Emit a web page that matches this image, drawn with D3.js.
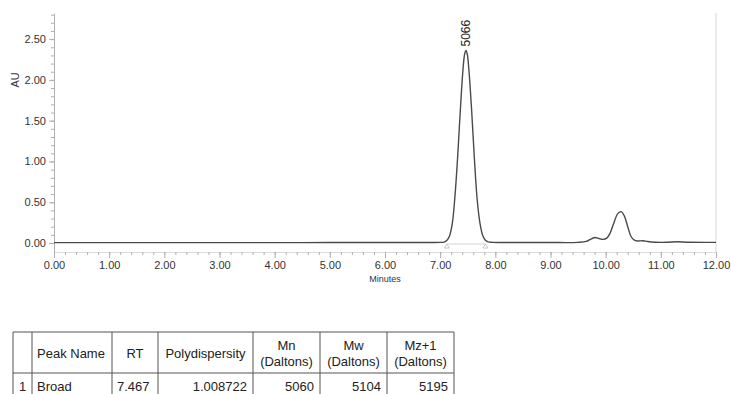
<!DOCTYPE html>
<html>
<head>
<meta charset="utf-8">
<script src="https://cdn.jsdelivr.net/npm/d3@7"></script>
<style>
  body { margin: 0; background: #fff; }
  svg { font-family: "Liberation Sans", Arial, sans-serif; }
</style>
</head>
<body>
<svg id="chart" width="731" height="394"></svg>
<script>
// chromatogram trace (minutes, AU)
let times = [0.00, 1.00, 2.00, 3.00, 4.00, 5.00, 6.00, 6.80, 7.00,
  7.07, 7.12, 7.17, 7.22, 7.27, 7.32, 7.37, 7.42, 7.445, 7.467, 7.49, 7.52, 7.57, 7.62, 7.67, 7.72, 7.77, 7.82, 7.87, 7.95,
  8.50, 9.00, 9.50, 9.65, 9.75, 9.81, 9.88, 9.95, 10.02, 10.08, 10.15, 10.22, 10.28, 10.34, 10.40, 10.46, 10.52, 10.58,
  10.68, 10.76, 10.90, 11.10, 11.30, 11.50, 12.00]
let au = [0.005, 0.005, 0.005, 0.005, 0.005, 0.006, 0.006, 0.007, 0.008,
  0.012, 0.032, 0.087, 0.24, 0.59, 1.09, 1.68, 2.18, 2.32, 2.36, 2.32, 2.13, 1.63, 1.04, 0.54, 0.25, 0.095, 0.034, 0.014, 0.008,
  0.006, 0.006, 0.008, 0.02, 0.055, 0.068, 0.055, 0.045, 0.06, 0.12, 0.25, 0.36, 0.385, 0.33, 0.20, 0.08, 0.035, 0.025,
  0.028, 0.018, 0.01, 0.009, 0.015, 0.01, 0.008]

// integrated peak
let peakLabel = "5066"
let peakRT = 7.467
let peakStart = 7.12
let peakEnd = 7.82

// axis ticks
let xMajor = [0, 1, 2, 3, 4, 5, 6, 7, 8, 9, 10, 11, 12]
let yMajor = [0, 0.5, 1.0, 1.5, 2.0, 2.5]

// results table
let headers = [["", ""], ["Peak Name"], ["RT"], ["Polydispersity"], ["Mn", "(Daltons)"], ["Mw", "(Daltons)"], ["Mz+1", "(Daltons)"]]
let row = ["1", "Broad", "7.467", "1.008722", "5060", "5104", "5195"]

let svg = d3.select("#chart")

let xscale = d3.scaleLinear().domain([0, 12]).range([54, 716])
let yscale = d3.scaleLinear().domain([-0.11, 2.82]).range([252, 13])

let axisColor = "#b0b0b0"
let textColor = "#333"

// right border of the plot
svg.append("line")
  .attr("x1", xscale(12)).attr("x2", xscale(12))
  .attr("y1", yscale(2.82)).attr("y2", yscale(-0.11))
  .attr("stroke", "#e4e4e4").attr("stroke-width", 1.5)

// y axis: major + minor ticks
let yMinor = d3.range(0, 29).map(i => i / 10).filter(v => v <= 2.82)
let yAxisG = svg.append("g").attr("transform", "translate(" + xscale(0) + ",0)")
yAxisG.call(d3.axisLeft(yscale).tickValues(yMinor).tickSize(3).tickFormat("").tickSizeOuter(0))
yAxisG.call(g => g.select(".domain").remove())
let yAxisMajor = svg.append("g").attr("transform", "translate(" + xscale(0) + ",0)")
  .call(d3.axisLeft(yscale).tickValues(yMajor).tickSize(5).tickSizeOuter(0).tickFormat(d3.format(".2f")))
yAxisMajor.select(".domain").attr("stroke", axisColor)
svg.selectAll("g .tick line").attr("stroke", axisColor)
yAxisMajor.selectAll("text").attr("fill", textColor).style("font-size", "11px").attr("x", -8)

// x axis
let xMinor = d3.range(0, 61).map(i => i / 5)
let xAxisMinor = svg.append("g").attr("transform", "translate(0," + yscale(-0.11) + ")")
  .call(d3.axisBottom(xscale).tickValues(xMinor).tickSize(3).tickFormat("").tickSizeOuter(0))
xAxisMinor.select(".domain").attr("stroke", "#dcdcdc")
xAxisMinor.selectAll(".tick line").attr("stroke", axisColor)
let xAxisMajor = svg.append("g").attr("transform", "translate(0," + yscale(-0.11) + ")")
  .call(d3.axisBottom(xscale).tickValues(xMajor).tickSize(6).tickSizeOuter(0).tickFormat(d3.format(".2f")))
xAxisMajor.select(".domain").remove()
xAxisMajor.selectAll(".tick line").attr("stroke", axisColor)
xAxisMajor.selectAll("text").attr("fill", textColor).style("font-size", "11px").attr("y", 9)

// axis titles
svg.append("text")
  .attr("transform", "translate(19," + yscale(2.0) + ") rotate(-90)")
  .attr("text-anchor", "middle")
  .attr("fill", textColor)
  .style("font-size", "11px")
  .text("AU")
svg.append("text")
  .attr("x", xscale(6)).attr("y", 282)
  .attr("text-anchor", "middle")
  .attr("fill", textColor)
  .style("font-size", "9px")
  .text("Minutes")

// peak baseline and start/end markers
svg.append("line")
  .attr("x1", xscale(peakStart)).attr("x2", xscale(peakEnd))
  .attr("y1", yscale(0) + 1).attr("y2", yscale(0) + 1)
  .attr("stroke", "#d4d4d4").attr("stroke-width", 1)
svg.selectAll(".marker")
  .data([peakStart, peakEnd])
  .enter()
  .append("path")
  .attr("class", "marker")
  .attr("d", d => {
    let cx = xscale(d), cy = yscale(0) + 3
    return "M" + (cx - 2.5) + "," + (cy + 2) + "L" + cx + "," + (cy - 2) + "L" + (cx + 2.5) + "," + (cy + 2) + "Z"
  })
  .attr("fill", "none")
  .attr("stroke", "#bbb")
  .attr("stroke-width", 0.8)

// trace
let lineFunction = d3.line()
  .x((d, i) => xscale(times[i]))
  .y(d => yscale(d))
  .curve(d3.curveCatmullRom.alpha(0.5))
svg.append("path")
  .datum(au)
  .attr("d", lineFunction)
  .attr("fill", "none")
  .attr("stroke", "#4a4a4a")
  .attr("stroke-width", 1.4)

// peak label
let peakTop = yscale(au[times.indexOf(peakRT)])
svg.append("text")
  .attr("transform", "translate(" + xscale(peakRT) + "," + (peakTop - 4) + ") rotate(-90)")
  .attr("dy", "0.35em")
  .attr("fill", "#222")
  .style("font-size", "12px")
  .text(peakLabel)

// results table
let colX = [13, 32, 112, 158, 253, 320, 387, 454]
let rowY = [332, 373, 400]
let table = svg.append("g")
table.selectAll(".vline")
  .data(colX)
  .enter()
  .append("line")
  .attr("x1", d => d).attr("x2", d => d)
  .attr("y1", rowY[0]).attr("y2", rowY[2])
  .attr("stroke", "#555").attr("stroke-width", 1)
table.selectAll(".hline")
  .data(rowY)
  .enter()
  .append("line")
  .attr("x1", colX[0]).attr("x2", colX[colX.length - 1])
  .attr("y1", d => d).attr("y2", d => d)
  .attr("stroke", "#555").attr("stroke-width", 1)

let headAlign = ["middle", "start", "middle", "middle", "middle", "middle", "middle"]
let rowAlign = ["middle", "start", "start", "end", "end", "end", "end"]
function cellX(i, align){
  if(align == "start") return colX[i] + 5
  if(align == "end") return colX[i + 1] - 6
  return (colX[i] + colX[i + 1]) / 2
}
headers.forEach((lines, i) => {
  let n = lines.length
  lines.forEach((t, j) => {
    let cy = n == 1 ? 353 : 345 + j * 16
    table.append("text")
      .attr("x", cellX(i, headAlign[i]))
      .attr("y", cy)
      .attr("dy", "0.35em")
      .attr("text-anchor", headAlign[i])
      .attr("fill", "#222")
      .style("font-size", "13px")
      .text(t)
  })
})
row.forEach((t, i) => {
  table.append("text")
    .attr("x", cellX(i, rowAlign[i]))
    .attr("y", 386)
    .attr("dy", "0.35em")
    .attr("text-anchor", rowAlign[i])
    .attr("fill", "#222")
    .style("font-size", "13px")
    .text(t)
})
</script>
</body>
</html>
